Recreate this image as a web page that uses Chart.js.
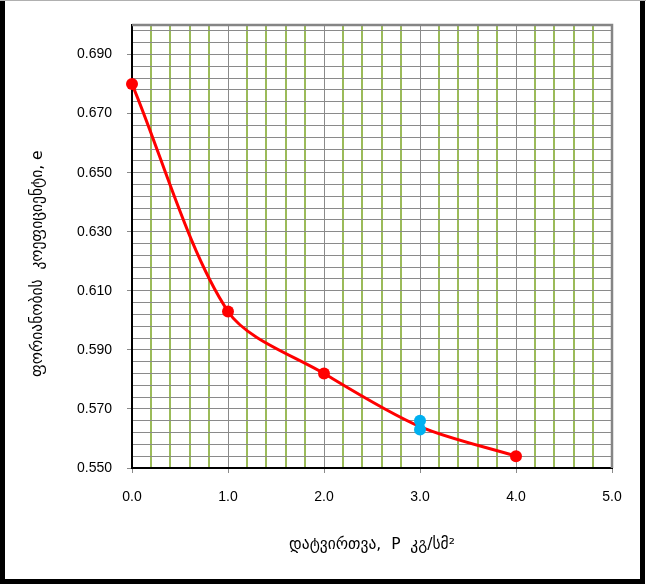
<!DOCTYPE html>
<html>
<head>
<meta charset="utf-8">
<script src="https://cdn.jsdelivr.net/npm/chart.js@4.4.1/dist/chart.umd.min.js"></script>
<style>
  html, body { margin: 0; padding: 0; background: #ffffff; }
  #wrap { position: relative; width: 646px; height: 585px; }
</style>
</head>
<body>
<div id="wrap"><canvas id="c" width="646" height="585"></canvas></div>
<script>
// Loading (kg/cm²) against void ratio e
const loadP = [0, 1, 2, 3, 4];
const voidRatio = [0.680, 0.603, 0.582, 0.564, 0.554];
const markerShown = [true, true, true, false, true];
// Repeated measurements at P = 3
const repeatP = [3, 3];
const repeatE = [0.566, 0.563];

const xTickLabels = ['0.0', '1.0', '2.0', '3.0', '4.0', '5.0'];
const yTickLabels = ['0.550', '0.570', '0.590', '0.610', '0.630', '0.650', '0.670', '0.690'];

const X_MIN = 0, X_MAX = 5, X_MINOR = 0.2;
const Y_MIN = 0.55, Y_MAX = 0.70, Y_MINOR = 0.004, Y_MAJOR_EVERY = 5;

const TICK_FONT = { family: '"Liberation Sans", Arial, sans-serif', size: 14 };
const GEO_FONT = { family: '"DejaVu Sans", sans-serif', size: 15.5 };

function xIndex(v) { return Math.round((v - X_MIN) / X_MINOR); }
function yIndex(v) { return Math.round((v - Y_MIN) / Y_MINOR); }

// Plot frame (top/right) and outer chart border
const framePlugin = {
  id: 'frame',
  afterDraw(chart) {
    const { ctx, chartArea: a } = chart;
    ctx.save();
    ctx.strokeStyle = '#858585';
    ctx.lineWidth = 2.5;
    ctx.beginPath();
    ctx.moveTo(a.left, a.top);
    ctx.lineTo(a.right, a.top);
    ctx.lineTo(a.right, a.bottom);
    ctx.stroke();
    // outer border
    ctx.strokeStyle = '#000000';
    ctx.lineWidth = 5;
    ctx.beginPath();
    ctx.moveTo(2.5, 0);
    ctx.lineTo(2.5, chart.height - 3.5);
    ctx.lineTo(chart.width - 3.5, chart.height - 3.5);
    ctx.lineTo(chart.width - 3.5, 0);
    ctx.stroke();
    ctx.strokeStyle = '#b0b0b0';
    ctx.lineWidth = 1;
    ctx.beginPath();
    ctx.moveTo(0, 0.5);
    ctx.lineTo(chart.width, 0.5);
    ctx.stroke();
    ctx.restore();
  }
};

new Chart(document.getElementById('c'), {
  type: 'scatter',
  data: {
    datasets: [
      {
        label: 'repeat',
        data: repeatP.map((p, i) => ({ x: p, y: repeatE[i] })),
        showLine: false,
        pointRadius: 6,
        pointHoverRadius: 6,
        pointBackgroundColor: '#00B0F0',
        pointBorderColor: '#00B0F0',
        pointBorderWidth: 0,
        clip: false
      },
      {
        label: 'e',
        data: loadP.map((p, i) => ({ x: p, y: voidRatio[i] })),
        showLine: true,
        borderColor: '#FF0000',
        borderWidth: 3,
        tension: 0.3,
        pointRadius: markerShown.map(s => s ? 6 : 0),
        pointHoverRadius: markerShown.map(s => s ? 6 : 0),
        pointBackgroundColor: '#FF0000',
        pointBorderColor: '#FF0000',
        pointBorderWidth: 0,
        clip: false
      }
    ]
  },
  options: {
    responsive: false,
    animation: false,
    events: [],
    layout: { padding: { left: 0, top: 25, right: 34, bottom: 0 } },
    plugins: { legend: { display: false }, tooltip: { enabled: false } },
    scales: {
      x: {
        type: 'linear',
        min: X_MIN,
        max: X_MAX,
        afterBuildTicks(scale) {
          const n = Math.round((X_MAX - X_MIN) / X_MINOR);
          scale.ticks = [];
          for (let i = 0; i <= n; i++) scale.ticks.push({ value: X_MIN + i * X_MINOR });
        },
        afterFit(scale) { scale.height = 117; },
        ticks: {
          autoSkip: false,
          maxRotation: 0,
          padding: 16,
          color: '#000000',
          font: TICK_FONT,
          callback(v) {
            const i = xIndex(v);
            return i % 5 === 0 ? xTickLabels[i / 5] : '';
          }
        },
        grid: {
          drawOnChartArea: true,
          tickLength: 5,
          color(ctx) {
            const i = xIndex(ctx.tick.value);
            if (i === 0 || i === 25) return 'rgba(0,0,0,0)';
            return i % 5 === 0 ? '#8a8a8a' : '#9BBB59';
          },
          lineWidth(ctx) {
            const i = xIndex(ctx.tick.value);
            return i % 5 === 0 ? 1 : 2;
          },
          tickColor(ctx) {
            const i = xIndex(ctx.tick.value);
            return i % 5 === 0 ? '#8a8a8a' : 'rgba(0,0,0,0)';
          },
          tickWidth: 1
        },
        border: { display: true, color: '#000000', width: 2 },
        title: {
          display: true,
          text: 'დატვირთვა,  P  კგ/სმ²',
          color: '#000000',
          font: GEO_FONT,
          padding: { top: 0, bottom: 31 }
        }
      },
      y: {
        type: 'linear',
        min: Y_MIN,
        max: Y_MAX,
        afterBuildTicks(scale) {
          const n = Math.floor((Y_MAX - Y_MIN) / Y_MINOR + 1e-9);
          scale.ticks = [];
          for (let i = 0; i <= n; i++) scale.ticks.push({ value: Y_MIN + i * Y_MINOR });
        },
        afterFit(scale) { scale.width = 132; },
        ticks: {
          autoSkip: false,
          padding: 15,
          color: '#000000',
          font: TICK_FONT,
          callback(v) {
            const i = yIndex(v);
            return i % Y_MAJOR_EVERY === 0 ? (yTickLabels[i / Y_MAJOR_EVERY] || '') : '';
          }
        },
        grid: {
          drawOnChartArea: true,
          tickLength: 5,
          color(ctx) {
            const i = yIndex(ctx.tick.value);
            return i === 0 ? 'rgba(0,0,0,0)' : '#8a8a8a';
          },
          lineWidth: 1,
          tickColor(ctx) {
            const i = yIndex(ctx.tick.value);
            return i % Y_MAJOR_EVERY === 0 ? '#8a8a8a' : 'rgba(0,0,0,0)';
          },
          tickWidth: 1
        },
        border: { display: true, color: '#000000', width: 2 },
        title: {
          display: true,
          text: 'ფორიანობის  კოეფიციენტი, e       ',
          color: '#000000',
          font: GEO_FONT,
          padding: { top: 29, bottom: 0 }
        }
      }
    }
  },
  plugins: [framePlugin]
});
</script>
</body>
</html>
